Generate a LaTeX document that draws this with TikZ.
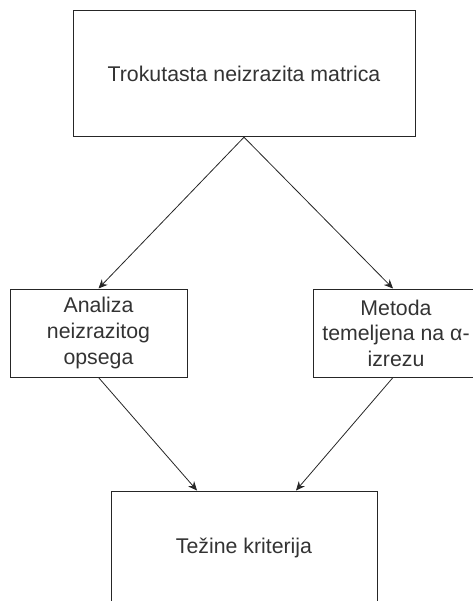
\documentclass[tikz,border=0pt]{standalone}
\usepackage{fontspec}
\setmainfont{Liberation Sans}
\usetikzlibrary{arrows.meta}
\tikzstyle{rect} = [rectangle, draw=black!85, line width=1pt, text=black!80, align=center, font=\fontsize{21.3}{25.6}\selectfont, inner sep=0pt]
\tikzstyle{arrow} = [-{Stealth[length=9pt,width=8pt]}, line width=0.8pt, draw=black!85]

\begin{document}
\begin{tikzpicture}[x=1pt,y=-1pt]
        \useasboundingbox (0,0) rectangle (472,601);
        \node[rect, minimum width=342pt, minimum height=126pt] (matrica) at (244,73.7) {Trokutasta neizrazita matrica};
        \node[rect, minimum width=177pt, minimum height=88pt] (analiza) at (98.5,333) {Analiza\\neizrazitog\\opsega};
        \node[rect, minimum width=166pt, minimum height=88pt] (metoda) at (396,333) {Metoda\\temeljena na α-\\izrezu};
        \node[rect, minimum width=266pt, minimum height=114pt] (tezine) at (244,548) {Težine kriterija};

        \draw[arrow] (matrica.south)--([xshift=-3pt]metoda.north);
        \draw[arrow] (matrica.south)--(analiza.north);
        \draw[arrow] (analiza.south)--([xshift=-47pt]tezine.north);
        \draw[arrow] ([xshift=-3pt]metoda.south)--([xshift=52pt]tezine.north);
        \end{tikzpicture}
\end{document}
